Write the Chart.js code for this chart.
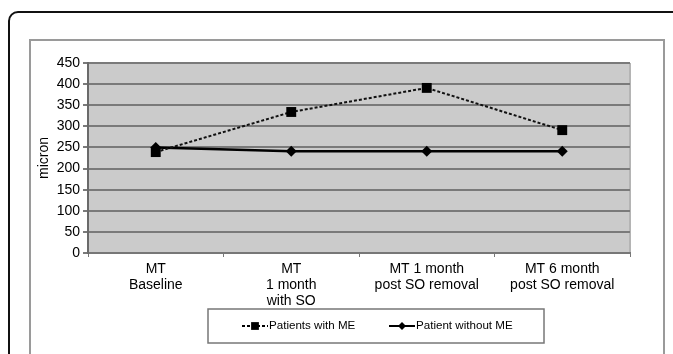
<!DOCTYPE html>
<html>
<head>
<meta charset="utf-8">
<script src="https://cdn.jsdelivr.net/npm/chart.js@4/dist/chart.umd.min.js"></script>
<style>
  body { margin: 0; background: #fff; }
  #wrap { position: relative; width: 673px; height: 354px; overflow: hidden; }
  .outer { position: absolute; left: 8px; top: 11px; width: 700px; height: 400px; border: 2px solid #111; border-radius: 10px; }
  .inner { position: absolute; left: 29px; top: 39px; width: 632px; height: 400px; border: 2px solid #9a9a9a; }
  canvas { position: absolute; left: 0; top: 0; }
</style>
</head>
<body>
<div id="wrap">
  <div class="outer"></div>
  <div class="inner"></div>
  <canvas id="chart" width="673" height="354"></canvas>
</div>
<script>
// Data
const categories = [
  ["MT", "Baseline"],
  ["MT", "1 month", "with SO"],
  ["MT 1 month", "post SO removal"],
  ["MT 6 month", "post SO removal"]
];
const withME = [239, 334, 391, 291];
const withoutME = [250, 241, 241, 241];
const yTicks = [0, 50, 100, 150, 200, 250, 300, 350, 400, 450];

const font = "Liberation Sans, Arial, sans-serif";

// gray plot background and right border
const plotBg = {
  id: "plotBg",
  beforeDraw(chart) {
    const { ctx, chartArea: a } = chart;
    ctx.save();
    ctx.fillStyle = "#cbcbcb";
    ctx.fillRect(a.left, a.top, a.right - a.left, a.bottom - a.top);
    ctx.strokeStyle = "#b4b4b4";
    ctx.lineWidth = 2;
    ctx.beginPath();
    ctx.moveTo(a.right, a.top);
    ctx.lineTo(a.right, a.bottom);
    ctx.stroke();
    ctx.restore();
  }
};

// boxed legend with line + marker samples
const boxLegend = {
  id: "boxLegend",
  afterDraw(chart) {
    const ctx = chart.ctx;
    const box = { x: 208, y: 309, w: 336, h: 34 };
    ctx.save();
    ctx.fillStyle = "#fff";
    ctx.fillRect(box.x, box.y, box.w, box.h);
    ctx.strokeStyle = "#777";
    ctx.lineWidth = 1.5;
    ctx.strokeRect(box.x, box.y, box.w, box.h);
    const starts = [242, 389];
    const sizes = [5.5, 4];
    const cy = 326;
    chart.data.datasets.forEach((ds, i) => {
      const x0 = starts[i];
      ctx.strokeStyle = "#000";
      ctx.fillStyle = "#000";
      ctx.lineWidth = 2;
      ctx.setLineDash(ds.borderDash || []);
      ctx.beginPath();
      ctx.moveTo(x0, cy);
      ctx.lineTo(x0 + 26, cy);
      ctx.stroke();
      ctx.setLineDash([]);
      Chart.helpers.drawPoint(ctx, {
        pointStyle: ds.pointStyle,
        radius: sizes[i],
        borderWidth: 0
      }, x0 + 13, cy);
      ctx.font = "11.6px " + font;
      ctx.textBaseline = "middle";
      ctx.fillText(ds.label, x0 + 27, cy);
    });
    ctx.restore();
  }
};

new Chart(document.getElementById("chart"), {
  type: "line",
  data: {
    labels: categories,
    datasets: [
      {
        label: "Patients with ME",
        data: withME,
        borderColor: "#111",
        borderWidth: 2,
        borderDash: [3, 2],
        pointStyle: "rect",
        pointRadius: 7,
        pointBackgroundColor: "#000",
        pointBorderWidth: 0,
        tension: 0
      },
      {
        label: "Patient without ME",
        data: withoutME,
        borderColor: "#000",
        borderWidth: 2.5,
        pointStyle: "rectRot",
        pointRadius: 5.5,
        pointBackgroundColor: "#000",
        pointBorderWidth: 0,
        tension: 0
      }
    ]
  },
  options: {
    responsive: false,
    animation: false,
    layout: { padding: { left: 0, right: 43, top: 63, bottom: 0 } },
    plugins: { legend: { display: false }, tooltip: { enabled: false } },
    scales: {
      x: {
        offset: true,
        grid: { drawOnChartArea: false, drawTicks: true, tickLength: 4, color: "#777", offset: true },
        border: { color: "#777", width: 2 },
        ticks: { color: "#000", font: { family: font, size: 14, lineHeight: 1.15 }, padding: 4, maxRotation: 0, autoSkip: false },
        afterFit(scale) { scale.height = 101; }
      },
      y: {
        min: 0,
        max: 450,
        afterBuildTicks(scale) { scale.ticks = yTicks.map(v => ({ value: v })); },
        grid: { color: "#7a7a7a", lineWidth: 2, tickLength: 5 },
        border: { color: "#6a6a6a", width: 2 },
        ticks: { color: "#000", font: { family: font, size: 14 }, padding: 3 },
        title: { display: true, text: "micron", color: "#000", font: { family: font, size: 14 }, padding: { top: 36, bottom: 0 } },
        afterFit(scale) { scale.width = 88; }
      }
    }
  },
  plugins: [plotBg, boxLegend]
});
</script>
</body>
</html>
